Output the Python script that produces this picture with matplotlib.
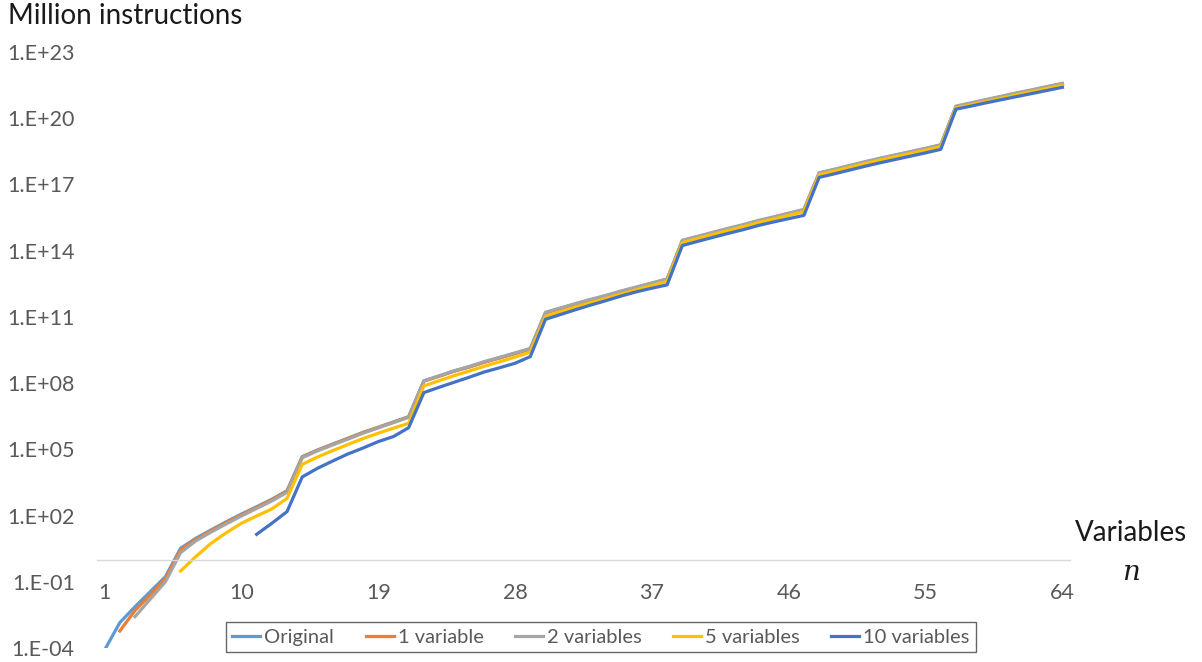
import matplotlib.pyplot as plt
import numpy as np

plt.rcParams['font.family'] = ['Lato', 'DejaVu Sans']

# log10 of million instructions
n_orig = np.arange(1, 65)
orig = [-4.09, -2.85, -2.13, -1.45, -0.77,
        0.52, 0.97, 1.35, 1.72, 2.07, 2.40, 2.74, 3.13,
        4.67, 4.97, 5.24, 5.50, 5.77, 6.00, 6.24, 6.48,
        8.10, 8.32, 8.55, 8.74, 8.96, 9.15, 9.35, 9.55,
        11.19, 11.39, 11.59, 11.78, 11.96, 12.16, 12.34, 12.52, 12.70,
        14.45, 14.63, 14.81, 14.99, 15.16, 15.35, 15.51, 15.68, 15.85,
        17.51, 17.67, 17.84, 18.01, 18.17, 18.32, 18.47, 18.62, 18.78,
        20.53, 20.68, 20.83, 20.98, 21.13, 21.27, 21.42, 21.56]

n_one = np.arange(2, 65)
one_var = [-3.23, -2.30, -1.60, -0.85,
           0.45, 0.92, 1.31, 1.68, 2.03, 2.37, 2.71, 3.10,
           4.65, 4.95, 5.22, 5.49, 5.76, 5.99, 6.23, 6.47,
           8.09, 8.31, 8.54, 8.73, 8.95, 9.14, 9.34, 9.54,
           11.18, 11.38, 11.58, 11.77, 11.95, 12.15, 12.33, 12.51, 12.69,
           14.44, 14.62, 14.80, 14.98, 15.15, 15.34, 15.50, 15.67, 15.84,
           17.50, 17.66, 17.83, 18.00, 18.16, 18.31, 18.46, 18.61, 18.77,
           20.52, 20.67, 20.82, 20.97, 21.12, 21.26, 21.41, 21.55]

n_two = np.arange(3, 65)
two_var = [-2.58, -1.79, -1.00,
           0.32, 0.85, 1.25, 1.62, 1.98, 2.32, 2.66, 3.05,
           4.62, 4.93, 5.20, 5.46, 5.73, 5.97, 6.21, 6.45,
           8.10, 8.33, 8.56, 8.76, 8.98, 9.17, 9.37, 9.57,
           11.21, 11.41, 11.61, 11.80, 11.98, 12.18, 12.36, 12.54, 12.72,
           14.47, 14.65, 14.83, 15.01, 15.18, 15.37, 15.53, 15.70, 15.87,
           17.53, 17.69, 17.86, 18.03, 18.19, 18.34, 18.49, 18.64, 18.80,
           20.55, 20.70, 20.85, 21.00, 21.15, 21.29, 21.44, 21.58]

n_five = np.arange(6, 65)
five_var = [-0.51, 0.14, 0.74, 1.22, 1.65, 1.98, 2.30, 2.78,
            4.32, 4.65, 4.94, 5.22, 5.49, 5.73, 5.96, 6.18,
            7.87, 8.11, 8.34, 8.55, 8.77, 8.97, 9.18, 9.40,
            11.02, 11.24, 11.45, 11.65, 11.84, 12.04, 12.23, 12.42, 12.60,
            14.36, 14.55, 14.73, 14.91, 15.08, 15.27, 15.43, 15.60, 15.77,
            17.44, 17.60, 17.77, 17.94, 18.10, 18.25, 18.40, 18.55, 18.71,
            20.46, 20.61, 20.76, 20.91, 21.06, 21.20, 21.35, 21.49]

n_ten = np.arange(11, 65)
ten_var = [1.15, 1.65, 2.18,
           3.75, 4.14, 4.47, 4.79, 5.06, 5.35, 5.58, 5.98,
           7.57, 7.81, 8.04, 8.27, 8.51, 8.70, 8.90, 9.20,
           10.89, 11.11, 11.33, 11.54, 11.74, 11.95, 12.14, 12.30, 12.45,
           14.23, 14.42, 14.60, 14.78, 14.95, 15.14, 15.30, 15.45, 15.60,
           17.32, 17.48, 17.65, 17.82, 17.98, 18.13, 18.28, 18.43, 18.59,
           20.41, 20.55, 20.70, 20.84, 20.98, 21.12, 21.26, 21.40]

labels = ["Original", "1 variable", "2 variables", "5 variables", "10 variables"]
colors = ["#5B9BD5", "#ED7D31", "#A5A5A5", "#FFC000", "#4472C4"]
x_ticks = [1, 10, 19, 28, 37, 46, 55, 64]
y_exps = [-4, -1, 2, 5, 8, 11, 14, 17, 20, 23]

fig = plt.figure(figsize=(12.02, 6.62), dpi=100)
ax = fig.add_axes([97 / 1202, 1 - 648 / 662, (1070 - 97) / 1202, (648 - 52) / 662])

series = [(n_orig, orig), (n_one, one_var), (n_two, two_var),
          (n_five, five_var), (n_ten, ten_var)]
for (xs, ys), lab, col in zip(series, labels, colors):
    ax.plot(xs, 10.0 ** np.array(ys), color=col, lw=2.3, label=lab,
            solid_joinstyle='round')

ax.set_yscale('log')
ax.set_ylim(1e-4, 1e23)
ax.set_xlim(0.5, 64.5)

ax.set_yticks([10.0 ** e for e in y_exps])
ax.set_yticklabels(["1.E%+03d" % e for e in y_exps])
ax.yaxis.set_minor_locator(plt.NullLocator())
ax.set_xticks(x_ticks)
ax.set_xticklabels([str(v) for v in x_ticks])
ax.tick_params(axis='both', length=0, labelsize=15.5, colors='#595959')
ax.tick_params(axis='y', pad=16)
ax.tick_params(axis='x', pad=17)

for s in ['top', 'right', 'left']:
    ax.spines[s].set_visible(False)
ax.spines['bottom'].set_position(('data', 1))
ax.spines['bottom'].set_color('#D9D9D9')
ax.spines['bottom'].set_linewidth(1.0)

fig.text(8 / 1202, 1 - 16 / 662, "Million instructions", fontsize=20,
         color='#1a1a1a', ha='left', va='center')
fig.text(1131 / 1202, 1 - 533 / 662, "Variables", fontsize=20,
         color='#1a1a1a', ha='center', va='center')
fig.text(1131 / 1202, 1 - 572 / 662, "n", fontsize=20, color='#1a1a1a',
         ha='center', va='center', family='DejaVu Serif', style='italic')

leg = ax.legend(loc='center', bbox_to_anchor=(601 / 1202, 1 - 637 / 662),
                bbox_transform=fig.transFigure, ncol=5, fontsize=14.5,
                frameon=True, fancybox=False, handlelength=1.4,
                handletextpad=0.2, columnspacing=1.55, borderpad=0.3)
leg.get_frame().set_edgecolor('#404040')
leg.get_frame().set_linewidth(1.0)
for t in leg.get_texts():
    t.set_color('#595959')

fig.savefig('out.png', dpi=100)
